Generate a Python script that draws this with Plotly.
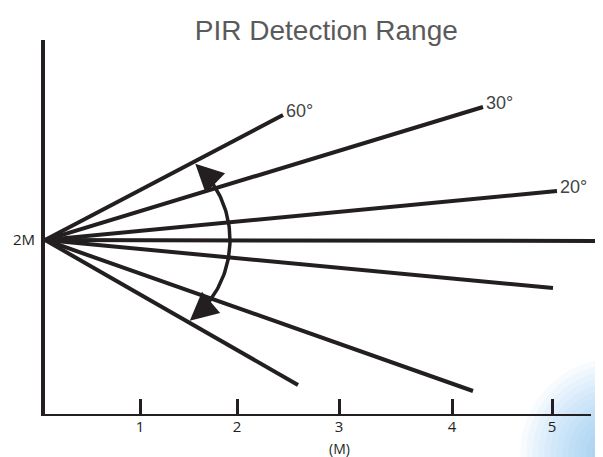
import numpy as np
import plotly.graph_objects as go

# ---------------- data (schematic units: metres on both axes) ----------------
origin_x, origin_y = 0.0, 1.76

ray_labels = ["60°", "30°", "20°", "", "", "", ""]
ray_end_x = [2.38, 4.38, 5.12, 5.51, 5.08, 4.28, 2.53]
ray_end_y = [3.01, 3.09, 2.25, 1.75, 1.28, 0.25, 0.31]

tick_positions = [0.95, 1.92, 2.94, 4.07, 5.07]
tick_labels = ["1", "2", "3", "4", "5"]
x_unit_label = "(M)"

y_tick_positions = [1.76]
y_tick_labels = ["2M"]

x_axis_end = 5.46
x_range = [0, 5.51]
y_range = [0, 3.76]

# detection-angle arc
arc_center = (0.84, 1.76)
arc_radius = 1.01
arc_start_deg, arc_end_deg = -46, 43
arrow_tip_top_deg, arrow_tip_bottom_deg = 49, -53

INK = "#231f20"

fig = go.Figure()

# rays
for ex, ey in zip(ray_end_x, ray_end_y):
    fig.add_trace(go.Scatter(x=[origin_x, ex], y=[origin_y, ey], mode="lines",
                             line=dict(color=INK, width=4), hoverinfo="skip",
                             showlegend=False))

# angle labels at the end of the upper rays
for lab, ex, ey in zip(ray_labels, ray_end_x, ray_end_y):
    if lab:
        fig.add_annotation(x=ex, y=ey, text=lab, showarrow=False,
                           xanchor="left", yanchor="bottom", xshift=1, yshift=-8,
                           font=dict(family="Liberation Sans", size=18, color="#444444"))

# arc
theta = np.radians(np.linspace(arc_start_deg, arc_end_deg, 60))
fig.add_trace(go.Scatter(x=arc_center[0] + arc_radius * np.cos(theta),
                         y=arc_center[1] + arc_radius * np.sin(theta),
                         mode="lines", line=dict(color=INK, width=3.5),
                         hoverinfo="skip", showlegend=False))

# arrow heads at both ends of the arc
for base_deg, tip_deg in [(arc_end_deg, arrow_tip_top_deg), (arc_start_deg, arrow_tip_bottom_deg)]:
    b, t = np.radians(base_deg), np.radians(tip_deg)
    fig.add_annotation(
        x=arc_center[0] + arc_radius * np.cos(t), y=arc_center[1] + arc_radius * np.sin(t),
        ax=arc_center[0] + arc_radius * np.cos(b), ay=arc_center[1] + arc_radius * np.sin(b),
        xref="x", yref="y", axref="x", ayref="y", text="", showarrow=True,
        arrowhead=2, arrowsize=1.6, arrowwidth=3.5, arrowcolor=INK, standoff=0)

# unit label under the axis
fig.add_annotation(x=tick_positions[2], xref="x", y=-0.086, yref="paper",
                   text=x_unit_label, showarrow=False, xanchor="center", yanchor="middle",
                   font=dict(family="Open Sans", size=14, color=INK))

# x-axis baseline
fig.add_shape(type="line", xref="x", yref="y", x0=0, x1=x_axis_end, y0=0, y1=0,
              line=dict(color=INK, width=4), layer="above")

# soft blue glow in the bottom-right corner
for i in range(14):
    r = 95 - i * 6
    dx, dy = r / 551, r / 376
    fig.add_shape(type="circle", xref="paper", yref="paper",
                  x0=1.035 - dx, x1=1.035 + dx, y0=-0.10 - dy, y1=-0.10 + dy,
                  fillcolor="rgba(90,175,240,0.05)", line=dict(width=0), layer="below")

# the page has an 8px body margin, so the figure is 8px smaller than the window
fig.update_layout(
    width=595, height=449,
    margin=dict(l=37, r=7, t=32, b=41, autoexpand=False),
    paper_bgcolor="white", plot_bgcolor="white",
    title=dict(text="PIR Detection Range", x=0.535, xanchor="center", y=0.951, yanchor="middle",
               font=dict(family="Liberation Sans", size=28, color="#5a5a5a")),
    xaxis=dict(range=x_range, showgrid=False, zeroline=False, showline=False,
               automargin=False,
               tickmode="array", tickvals=tick_positions, ticktext=tick_labels,
               ticks="inside", ticklen=17, tickwidth=3, tickcolor=INK,
               ticklabelstandoff=0,
               tickfont=dict(family="Open Sans", size=15, color=INK),
               fixedrange=True),
    yaxis=dict(range=y_range, showgrid=False, zeroline=False, showline=True,
               automargin=False,
               linecolor=INK, linewidth=4,
               tickmode="array", tickvals=y_tick_positions, ticktext=y_tick_labels,
               ticks="", ticklabelstandoff=3,
               tickfont=dict(family="Open Sans", size=15, color=INK),
               fixedrange=True),
)

fig.write_html("out.html")
